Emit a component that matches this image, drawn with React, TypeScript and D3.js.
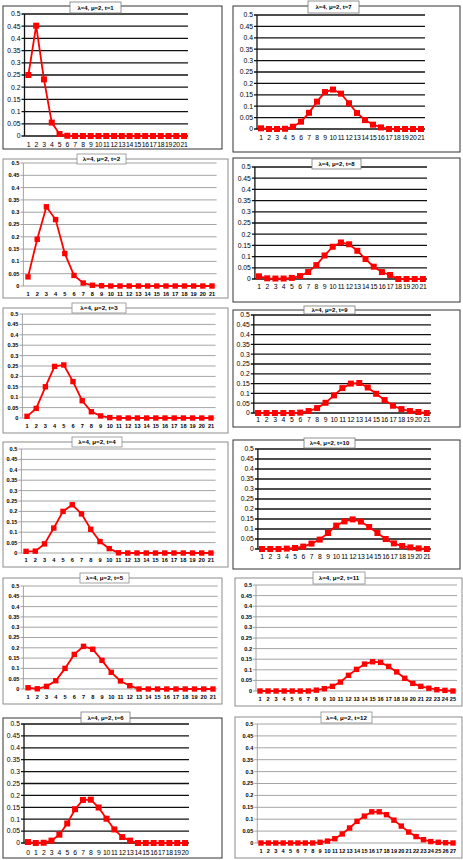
import React from "react";
import * as d3 from "d3";

// category labels
const cats1to21 = ["1", "2", "3", "4", "5", "6", "7", "8", "9", "10", "11", "12", "13", "14", "15", "16", "17", "18", "19", "20", "21"];
const cats0to20 = ["0", "1", "2", "3", "4", "5", "6", "7", "8", "9", "10", "11", "12", "13", "14", "15", "16", "17", "18", "19", "20"];
const cats1to25 = ["1", "2", "3", "4", "5", "6", "7", "8", "9", "10", "11", "12", "13", "14", "15", "16", "17", "18", "19", "20", "21", "22", "23", "24", "25"];
const cats1to27 = ["1", "2", "3", "4", "5", "6", "7", "8", "9", "10", "11", "12", "13", "14", "15", "16", "17", "18", "19", "20", "21", "22", "23", "24", "25", "26", "27"];

const yTicks = [0, 0.05, 0.1, 0.15, 0.2, 0.25, 0.3, 0.35, 0.4, 0.45, 0.5];
const yTickLabels = ["0", "0.05", "0.1", "0.15", "0.2", "0.25", "0.3", "0.35", "0.4", "0.45", "0.5"];

// probabilities for each t
const t1 = [0.25, 0.452, 0.232, 0.055, 0.008, 0.001, 0, 0, 0, 0, 0, 0, 0, 0, 0, 0, 0, 0, 0, 0, 0];
const t2 = [0.037, 0.19, 0.322, 0.27, 0.132, 0.043, 0.012, 0.003, 0.001, 0, 0, 0, 0, 0, 0, 0, 0, 0, 0, 0, 0];
const t3 = [0.008, 0.046, 0.15, 0.248, 0.255, 0.175, 0.083, 0.03, 0.01, 0.002, 0, 0, 0, 0, 0, 0, 0, 0, 0, 0, 0];
const t4 = [0.008, 0.009, 0.044, 0.12, 0.2, 0.232, 0.188, 0.114, 0.055, 0.021, 0.001, 0, 0, 0, 0, 0, 0, 0, 0, 0, 0];
const t5 = [0.006, 0.001, 0.013, 0.04, 0.1, 0.168, 0.207, 0.193, 0.139, 0.081, 0.039, 0.016, 0, 0, 0, 0, 0, 0, 0, 0, 0];
const t6 = [0.004, 0, 0.001, 0.01, 0.035, 0.082, 0.142, 0.181, 0.182, 0.149, 0.102, 0.057, 0.025, 0.01, 0, 0, 0, 0, 0, 0, 0];
const t7 = [0.003, 0, 0, 0.001, 0.01, 0.032, 0.071, 0.12, 0.162, 0.173, 0.155, 0.113, 0.07, 0.039, 0.019, 0.007, 0, 0, 0, 0, 0];
const t8 = [0.012, 0.003, 0.002, 0.002, 0.005, 0.013, 0.031, 0.062, 0.105, 0.144, 0.163, 0.155, 0.126, 0.089, 0.055, 0.031, 0.018, 0, 0, 0, 0];
const t9 = [0, 0, 0, 0, 0, 0.002, 0.01, 0.025, 0.052, 0.09, 0.127, 0.15, 0.153, 0.13, 0.098, 0.066, 0.037, 0.02, 0.01, 0.005, 0];
const t10 = [0, 0, 0, 0.002, 0.005, 0.012, 0.027, 0.047, 0.08, 0.117, 0.138, 0.148, 0.137, 0.11, 0.08, 0.05, 0.028, 0.015, 0.008, 0.003, 0];
const t11 = [0, 0, 0, 0, 0, 0, 0, 0.004, 0.011, 0.022, 0.042, 0.074, 0.102, 0.127, 0.138, 0.135, 0.116, 0.09, 0.06, 0.036, 0.022, 0.013, 0.006, 0.003, 0];
const t12 = [0, 0, 0, 0, 0, 0, 0, 0, 0.003, 0.008, 0.018, 0.038, 0.063, 0.091, 0.113, 0.131, 0.131, 0.119, 0.096, 0.071, 0.046, 0.027, 0.014, 0.006, 0.003, 0.001, 0];

type Cfg = {
  title: string;
  cats: string[];
  values: number[];
  style: "black" | "grey";
  box: number[]; // x0 y0 x1 y1
  plot: number[]; // left top right bottom
  labelY: number;
  tb: number[]; // title box x0 y0 x1 y1
};

const panels: Cfg[] = [
  { title: "λ=4, μ=2, t=1", cats: cats1to21, values: t1, style: "black", box: [3, 6, 222, 149], plot: [24.5, 14, 188, 136], labelY: 146.5, tb: [70, 2, 121, 13] },
  { title: "λ=4, μ=2, t=2", cats: cats1to21, values: t2, style: "grey", box: [3, 159, 228, 298], plot: [23.4, 163, 216.6, 286], labelY: 296, tb: [77, 154, 126, 164] },
  { title: "λ=4, μ=2, t=3", cats: cats1to21, values: t3, style: "grey", box: [3, 308, 228, 433], plot: [22.4, 314, 215.6, 418], labelY: 428, tb: [72, 303, 126, 313] },
  { title: "λ=4, μ=2, t=4", cats: cats1to21, values: t4, style: "grey", box: [3, 442, 228, 567], plot: [21.4, 449, 215.6, 553], labelY: 562, tb: [72, 437, 122, 447] },
  { title: "λ=4, μ=2, t=5", cats: cats1to21, values: t5, style: "grey", box: [3, 578, 222, 704], plot: [23.4, 586, 217.6, 689], labelY: 699, tb: [80, 573, 129, 583] },
  { title: "λ=4, μ=2, t=6", cats: cats0to20, values: t6, style: "black", box: [3, 718, 222, 858], plot: [24, 724, 189, 843], labelY: 854.5, tb: [81, 712, 130, 723] },
  { title: "λ=4, μ=2, t=7", cats: cats1to21, values: t7, style: "black", box: [233, 6, 460, 152], plot: [257, 15, 425, 129], labelY: 139.5, tb: [308, 1, 359, 13] },
  { title: "λ=4, μ=2, t=8", cats: cats1to21, values: t8, style: "black", box: [233, 158, 460, 302], plot: [254.9, 167, 427, 279], labelY: 288.5, tb: [312, 159, 361, 169] },
  { title: "λ=4, μ=2, t=9", cats: cats1to21, values: t9, style: "black", box: [233, 310, 460, 427], plot: [253.8, 315, 431, 413], labelY: 421.5, tb: [304, 306, 355, 314] },
  { title: "λ=4, μ=2, t=10", cats: cats1to21, values: t10, style: "black", box: [233, 440, 460, 569], plot: [257.9, 449, 431, 549], labelY: 558.5, tb: [304, 438, 355, 448] },
  { title: "λ=4, μ=2, t=11", cats: cats1to25, values: t11, style: "grey", box: [235, 578, 462, 706], plot: [256, 585, 457, 691], labelY: 700.5, tb: [313, 572, 365, 584] },
  { title: "λ=4, μ=2, t=12", cats: cats1to27, values: t12, style: "grey", box: [235, 717, 462, 858], plot: [257.3, 724, 456.7, 843], labelY: 853, tb: [321, 712, 372, 723] },
];

function Panel({ cfg }: { cfg: Cfg }) {
  const { box, plot, tb } = cfg;
  const black = cfg.style === "black";
  const x = d3.scaleBand().domain(cfg.cats).range([plot[0], plot[2]]).padding(0);
  const y = d3.scaleLinear().domain([0, 0.5]).range([plot[3], plot[1]]);
  const cx = (i: number) => (x(cfg.cats[i]) ?? 0) + x.bandwidth() / 2;
  const line = d3
    .line<number>()
    .x((_, i) => cx(i))
    .y((d) => y(d));
  const gridColor = black ? "#111" : "#9a9a9a";
  const gridWidth = black ? 1.3 : 0.9;
  const font = black ? "Liberation Sans, Arial, sans-serif" : "Liberation Sans, Arial, sans-serif";
  const tickSize = black ? 6.8 : 5.6;
  const ms = black ? 6 : 5.4;

  return (
    <g>
      <rect
        x={box[0]}
        y={box[1]}
        width={box[2] - box[0]}
        height={box[3] - box[1]}
        fill="#fff"
        stroke={black ? "#333" : "#8c8c8c"}
        strokeWidth={1}
      />
      {yTicks.map((t, i) => (
        <g key={i}>
          <line x1={plot[0] - 3} x2={plot[2]} y1={y(t)} y2={y(t)} stroke={gridColor} strokeWidth={gridWidth} />
          <text
            x={plot[0] - 4}
            y={y(t)}
            dy="0.35em"
            textAnchor="end"
            fontFamily={font}
            fontWeight={black ? 400 : 700}
            fontSize={tickSize}
            fill="#000"
          >
            {yTickLabels[i]}
          </text>
        </g>
      ))}
      <line x1={plot[0]} x2={plot[0]} y1={plot[1]} y2={plot[3]} stroke={gridColor} strokeWidth={black ? 1.3 : 0.9} />
      {cfg.cats.map((c, i) => (
        <text
          key={c}
          x={cx(i)}
          y={cfg.labelY}
          textAnchor="middle"
          fontFamily={font}
          fontWeight={black ? 400 : 700}
          fontSize={tickSize}
          letterSpacing={black ? -0.3 : 0}
          fill="#000"
        >
          {c}
        </text>
      ))}
      <path d={line(cfg.values) ?? ""} fill="none" stroke="#ff0000" strokeWidth={1.8} />
      {cfg.values.map((v, i) => (
        <rect key={i} x={cx(i) - ms / 2} y={y(v) - ms / 2} width={ms} height={ms} fill="#ff0000" />
      ))}
      <rect
        x={tb[0]}
        y={tb[1]}
        width={tb[2] - tb[0]}
        height={tb[3] - tb[1]}
        fill="#fff"
        stroke={black ? "#777" : "#8c8c8c"}
        strokeWidth={0.8}
      />
      <text
        x={(tb[0] + tb[2]) / 2}
        y={(tb[1] + tb[3]) / 2}
        dy="0.35em"
        textAnchor="middle"
        fontFamily={font}
        fontWeight={700}
        fontSize={black ? 6 : 6.2}
        fill="#000"
      >
        {cfg.title}
      </text>
    </g>
  );
}

export default function App() {
  return (
    <svg
      width={463}
      height={860}
      style={{ position: "absolute", left: 0, top: 0, background: "#fff" }}
    >
      <rect x={0} y={0} width={463} height={860} fill="#fff" />
      {panels.map((p) => (
        <Panel key={p.title} cfg={p} />
      ))}
    </svg>
  );
}
